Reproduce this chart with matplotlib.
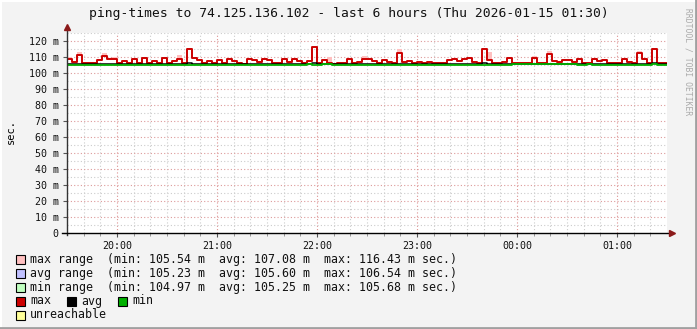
import matplotlib
matplotlib.use('Agg')
import matplotlib.pyplot as plt
import matplotlib.patches as mpatches
import matplotlib.lines as mlines
import numpy as np

# ---- data (3-minute steps from 19:30 to 01:30) ----
STEP_MIN = 3
ping_max = [
    109, 107, 111, 106, 106, 106.5, 108, 110.6, 109, 108.5,
    106, 107.5, 106, 108.6, 106.5, 109.6, 106, 107.5, 106, 109.2,
    106.5, 107.5, 108.5, 106.5, 114.8, 109.6, 108, 106.5, 107.5, 106.5,
    108, 106, 109, 107.5, 106, 105.8, 109, 108, 107, 109,
    108.3, 106.5, 106, 108.5, 107, 108.8, 107.5, 106, 107.5, 116.4,
    106, 108, 106.5, 105.8, 106, 106, 108.5, 106.5, 107, 109,
    108.5, 107.5, 106.5, 108, 107, 106.5, 112.4, 107, 107.5, 106.3,
    107, 106.5, 107, 106, 106, 106.5, 108, 109, 107.5, 108.5,
    109.6, 107, 106, 114.8, 108.3, 106.5, 106.5, 107, 109.3, 106.5,
    106, 106, 106, 109.3, 106, 106, 112, 107.5, 107, 108.2,
    108, 107, 108.5, 106.5, 106, 108.5, 107.5, 108, 106.3, 106.5,
    106.5, 108.5, 107, 106.5, 112.7, 108.5, 106, 115, 106.5, 106,
]
ping_avg = [
    105.7, 105.6, 105.8, 105.6, 105.5, 105.6, 105.7, 105.9, 105.8, 105.6,
    105.6, 105.6, 105.6, 105.9, 105.6, 105.7, 105.5, 105.6, 105.6, 105.8,
    105.6, 105.6, 105.7, 105.6, 106.2, 105.8, 105.9, 105.7, 105.6, 105.6,
    105.6, 105.6, 105.7, 105.6, 105.8, 105.7, 105.7, 105.6, 105.6, 105.7,
    105.6, 105.6, 105.8, 105.6, 105.6, 105.7, 105.6, 105.6, 105.6, 106.54,
    105.6, 105.6, 105.6, 105.6, 105.5, 105.6, 105.6, 105.6, 105.6, 105.7,
    105.6, 105.6, 105.6, 105.6, 105.6, 105.6, 105.9, 105.6, 105.6, 105.6,
    105.6, 105.6, 105.6, 105.6, 105.6, 105.6, 105.6, 105.7, 105.6, 105.6,
    105.6, 105.6, 105.6, 106.1, 105.7, 105.6, 105.6, 105.6, 105.6, 105.5,
    105.5, 105.5, 105.5, 105.6, 105.5, 105.5, 105.7, 105.5, 105.5, 105.5,
    105.5, 105.5, 105.5, 105.6, 105.6, 105.5, 105.5, 105.5, 105.9, 105.6,
    105.5, 105.5, 105.6, 105.6, 105.8, 105.6, 105.5, 106.1, 105.6, 105.6,
]
ping_min = [
    105.2, 105.2, 105.2, 105.2, 104.97, 105.2, 105.2, 105.2, 105.2, 105.0,
    105.2, 105.2, 105.2, 105.2, 105.2, 105.2, 105.2, 105.0, 105.2, 105.2,
    105.2, 105.2, 105.2, 105.2, 105.0, 105.2, 105.0, 105.2, 105.2, 105.2,
    105.2, 105.2, 105.2, 105.2, 105.2, 105.2, 105.2, 105.2, 105.2, 105.2,
    105.2, 105.2, 105.2, 105.2, 105.2, 105.2, 105.2, 105.2, 105.5, 105.2,
    105.2, 105.5, 105.4, 105.2, 105.2, 105.2, 105.2, 105.2, 105.2, 105.2,
    105.2, 105.2, 105.2, 105.2, 105.2, 105.2, 105.2, 105.2, 105.2, 105.2,
    105.2, 105.2, 105.2, 105.2, 105.2, 105.2, 105.2, 105.2, 105.2, 105.2,
    105.2, 105.2, 105.2, 105.2, 105.2, 105.2, 105.2, 105.2, 105.2, 105.6,
    105.6, 105.6, 105.6, 105.6, 105.6, 105.6, 105.6, 105.6, 105.6, 105.6,
    105.4, 105.4, 105.2, 105.2, 105.4, 105.2, 105.2, 105.2, 105.2, 105.0,
    105.2, 105.2, 105.2, 105.2, 105.2, 105.2, 105.2, 105.4, 105.2, 105.2,
]
# upper edge of the pink "max range" band where it rises above the max line
pink_idx = [0, 2, 7, 9, 22, 24, 52, 59, 66, 84, 93, 96, 114, 117]
pink_top = [110, 113, 112.7, 110, 111, 115.5, 110, 110.5, 115, 113, 110.5, 113.8, 113.5, 115.5]

hour_labels = ['20:00', '21:00', '22:00', '23:00', '00:00', '01:00']
hour_pos = [30, 90, 150, 210, 270, 330]  # minutes after 19:30

range_names = ['max range', 'avg range', 'min range']
stat_min = [105.54, 105.23, 104.97]
stat_avg = [107.08, 105.60, 105.25]
stat_max = [116.43, 106.54, 105.68]

RANGE_COLORS = ['#ffc0c0', '#c0c0ff', '#c0ffc0']
LINE_COLORS = {'max': '#cc0000', 'avg': '#000000', 'min': '#00b000'}
MONO = 'DejaVu Sans Mono'
W, H = 697, 329


def fx(px):
    return px / W


def fy(py):
    return 1 - py / H


fig = plt.figure(figsize=(W / 100, H / 100), dpi=100, facecolor='#f3f3f3')
ax = fig.add_axes([fx(67), fy(233), 600 / W, 200 / H])
ax.set_facecolor('white')
ax.set_xlim(0, 360)
ax.set_ylim(0, 125)

n = len(ping_max)
edges = np.arange(n + 1) * STEP_MIN
vmax = np.array(ping_max)
vavg = np.array(ping_avg)
vmin = np.array(ping_min)

# pink band on top of the max line
top = vmax.copy()
for i, t in zip(pink_idx, pink_top):
    top[i] = t
ax.fill_between(edges, np.append(vmax, vmax[-1]), np.append(top, top[-1]),
                step='post', color=RANGE_COLORS[0], lw=0, zorder=2)

for vals, key, z, lw in [(vmax, 'max', 3, 1.4), (vavg, 'avg', 4, 1.1), (vmin, 'min', 5, 1.3)]:
    ax.plot(edges, np.append(vals, vals[-1]), drawstyle='steps-post',
            color=LINE_COLORS[key], lw=lw, zorder=z)

# grid
dots = (0, (1, 2))
for m in range(10, 360, 10):
    major = (m - 30) % 60 == 0
    ax.axvline(m, color='#dd9090' if major else '#cccccc', lw=0.8,
               ls=dots, zorder=1)
for v in np.arange(5, 126, 5):
    major = v % 10 == 0
    ax.axhline(v, color='#dd9a9a' if major else '#cccccc', lw=0.8,
               ls=dots, zorder=1)

for s in ax.spines.values():
    s.set_visible(False)
ax.set_xticks(hour_pos)
ax.set_xticklabels(hour_labels)
ax.set_xticks(np.arange(10, 360, 10), minor=True)
yt = np.arange(0, 121, 10)
ax.set_yticks(yt)
ax.set_yticklabels(['0'] + [f'{v} m' for v in yt[1:]])
ax.tick_params(axis='both', which='major', length=3, width=0.8, color='#555555',
               labelsize=7.2, pad=3)
ax.tick_params(axis='x', which='minor', length=2, width=0.6, color='#888888')
for lab in ax.get_xticklabels() + ax.get_yticklabels():
    lab.set_fontfamily(MONO)
    lab.set_color('#111111')

# axis lines with arrow heads
ax.add_line(mlines.Line2D([0, 0], [-0.01, 1.02], transform=ax.transAxes,
                          color='#333333', lw=1, clip_on=False, zorder=6))
ax.add_line(mlines.Line2D([-0.008, 1.005], [0, 0], transform=ax.transAxes,
                          color='#000000', lw=1, clip_on=False, zorder=6))
ax.plot([0], [1.03], marker='^', ms=4, color='#8b1a1a', transform=ax.transAxes,
        clip_on=False, zorder=7)
ax.plot([1.008], [0], marker='>', ms=4, color='#8b1a1a', transform=ax.transAxes,
        clip_on=False, zorder=7)

fig.text(0.5, fy(13), 'ping-times to 74.125.136.102 - last 6 hours (Thu 2026-01-15 01:30)',
         ha='center', va='center', fontsize=9.4, family=MONO, color='#111111')
fig.text(fx(11), fy(131), 'sec.', rotation=90, ha='center', va='center',
         fontsize=7.5, family=MONO)
fig.text(fx(688), fy(62), 'RRDTOOL / TOBI OETIKER', rotation=270, ha='center',
         va='center', fontsize=5.8, family=MONO, color='#aaaaaa')

# legend
row_y = [259, 273, 287, 301, 315]
sw = 9


def swatch(px, py, color):
    fig.patches.append(mpatches.Rectangle((fx(px), fy(py + sw / 2)), sw / W, sw / H,
                                          transform=fig.transFigure, facecolor=color,
                                          edgecolor='black', lw=0.8))


for k, name in enumerate(range_names):
    swatch(16, row_y[k], RANGE_COLORS[k])
    txt = f'{name:<11}(min: {stat_min[k]:.2f} m  avg: {stat_avg[k]:.2f} m  max: {stat_max[k]:.2f} m sec.)'
    fig.text(fx(30), fy(row_y[k]), txt, ha='left', va='center', fontsize=8.4,
             family=MONO, color='#111111')
for px, key in [(16, 'max'), (67, 'avg'), (118, 'min')]:
    swatch(px, row_y[3], LINE_COLORS[key])
    fig.text(fx(px + 14), fy(row_y[3]), key, ha='left', va='center', fontsize=8.4,
             family=MONO, color='#111111')
swatch(16, row_y[4], '#ffff99')
fig.text(fx(30), fy(row_y[4]), 'unreachable', ha='left', va='center', fontsize=8.4,
         family=MONO, color='#111111')

# 3d-ish frame
fig.add_artist(mlines.Line2D([fx(0.5), fx(0.5)], [0, 1], color='white', lw=1.5))
fig.add_artist(mlines.Line2D([0, 1], [fy(0.5), fy(0.5)], color='white', lw=1.5))
fig.add_artist(mlines.Line2D([fx(696), fx(696)], [0, 1], color='#a0a0a0', lw=2))
fig.add_artist(mlines.Line2D([0, 1], [fy(328), fy(328)], color='#a0a0a0', lw=2))

fig.savefig('out.png', dpi=100, facecolor=fig.get_facecolor())
